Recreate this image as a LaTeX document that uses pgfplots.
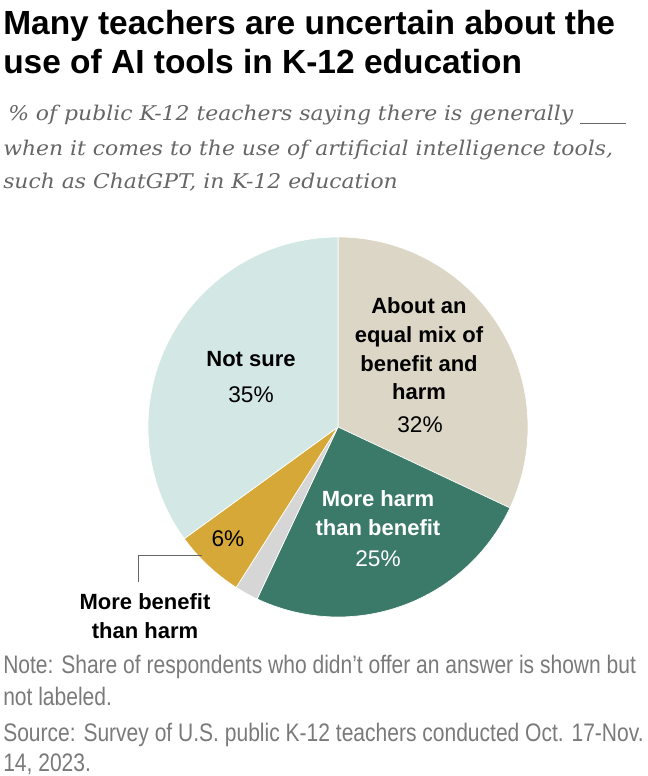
\documentclass[border=0pt]{standalone}
\usepackage{pgfplots}
\pgfplotsset{compat=1.18}
\usepackage{fontspec}
\setmainfont{Liberation Sans}
\newfontfamily\subfont[FakeStretch=1.08]{DejaVu Serif}
\newfontfamily\notefont[FakeStretch=0.83]{Liberation Sans}

\definecolor{cNotSure}{HTML}{D3E8E4}
\definecolor{cEqual}{HTML}{DCD6C6}
\definecolor{cHarm}{HTML}{3B7A68}
\definecolor{cNone}{HTML}{D6D6D6}
\definecolor{cBenefit}{HTML}{D6A837}
\definecolor{subgray}{HTML}{666666}
\definecolor{notegray}{HTML}{7A7A7A}

% shares (%), clockwise from 12 o'clock
\newcommand\vEqual{32}
\newcommand\vHarm{25}
\newcommand\vNone{2}
\newcommand\vBenefit{6}
\newcommand\vNotSure{35}
\pgfmathsetmacro\aA{90}
\pgfmathsetmacro\aB{\aA-3.6*\vEqual}
\pgfmathsetmacro\aC{\aB-3.6*\vHarm}
\pgfmathsetmacro\aD{\aC-3.6*\vNone}
\pgfmathsetmacro\aE{\aD-3.6*\vBenefit}
\pgfmathsetmacro\aF{\aE-3.6*\vNotSure}

\newcommand\cx{338}
\newcommand\cy{349}
\newcommand\rr{190}
\newcommand\slice[3]{%
  \addplot[draw=white, line width=0.5pt, line join=round, fill=#3,
    domain=#2:#1, samples=120, variable=\t]
    ({\cx+\rr*cos(\t)},{\cy+\rr*sin(\t)}) -- (axis cs:\cx,\cy) -- cycle;}

\begin{document}
\begin{tikzpicture}
\begin{axis}[
  at={(0,0)}, anchor=south west,
  width=486pt, height=582pt, scale only axis,
  xmin=0, xmax=648, ymin=0, ymax=776,
  axis lines=none, clip=false,
]
\slice{\aA}{\aB}{cEqual}
\slice{\aB}{\aC}{cHarm}
\slice{\aC}{\aD}{cNone}
\slice{\aD}{\aE}{cBenefit}
\slice{\aE}{\aF}{cNotSure}

% title
\node[anchor=base west, inner sep=0pt, font=\fontsize{25.1}{30}\selectfont\bfseries] at (axis cs:3,741) {Many teachers are uncertain about the};
\node[anchor=base west, inner sep=0pt, font=\fontsize{25.1}{30}\selectfont\bfseries] at (axis cs:3,702) {use of AI tools in K-12 education};
% subtitle
\node[anchor=base west, inner sep=0pt, text=subgray, font=\fontsize{15.2}{25}\subfont\itshape] at (axis cs:8,655) {\% of public K-12 teachers saying there is generally\ \rule[-2.5pt]{34pt}{0.8pt}};
\node[anchor=base west, inner sep=0pt, text=subgray, font=\fontsize{15.2}{25}\subfont\itshape] at (axis cs:3,620) {when it comes to the use of artificial intelligence tools,};
\node[anchor=base west, inner sep=0pt, text=subgray, font=\fontsize{15.2}{25}\subfont\itshape] at (axis cs:3,587) {such as ChatGPT, in K-12 education};

% slice labels
\tikzset{lb/.style={anchor=base, inner sep=0pt, font=\fontsize{16.5}{20}\selectfont\bfseries},
         pc/.style={anchor=base, inner sep=0pt, font=\fontsize{17}{20}\selectfont}}
\node[lb] at (axis cs:251,409) {Not sure};
\node[pc] at (axis cs:251,373) {35\%};
\node[lb] at (axis cs:419,462) {About an};
\node[lb] at (axis cs:419,433) {equal mix of};
\node[lb] at (axis cs:419,404) {benefit and};
\node[lb] at (axis cs:419,376) {harm};
\node[pc] at (axis cs:420,343) {32\%};
\node[lb, text=white] at (axis cs:378,269) {More harm};
\node[lb, text=white] at (axis cs:378,240) {than benefit};
\node[pc, text=white] at (axis cs:378,209) {25\%};
\node[pc] at (axis cs:228,229) {6\%};
\draw[black!60, line width=0.7pt] (axis cs:202,221) -- (axis cs:138,221) -- (axis cs:138,194);
\node[lb] at (axis cs:145,166) {More benefit};
\node[lb] at (axis cs:145,137) {than harm};

% notes
\node[anchor=base west, inner sep=0pt, text=notegray, font=\fontsize{19}{24}\notefont] at (axis cs:3,102) {Note: Share of respondents who didn’t offer an answer is shown but};
\node[anchor=base west, inner sep=0pt, text=notegray, font=\fontsize{19}{24}\notefont] at (axis cs:3,70) {not labeled.};
\node[anchor=base west, inner sep=0pt, text=notegray, font=\fontsize{19}{24}\notefont] at (axis cs:3,35) {Source: Survey of U.S. public K-12 teachers conducted Oct. 17-Nov.};
\node[anchor=base west, inner sep=0pt, text=notegray, font=\fontsize{19}{24}\notefont] at (axis cs:3,5) {14, 2023.};
\end{axis}
\pgfresetboundingbox
\path (0,0) rectangle (486pt,582pt);
\end{tikzpicture}
\end{document}
